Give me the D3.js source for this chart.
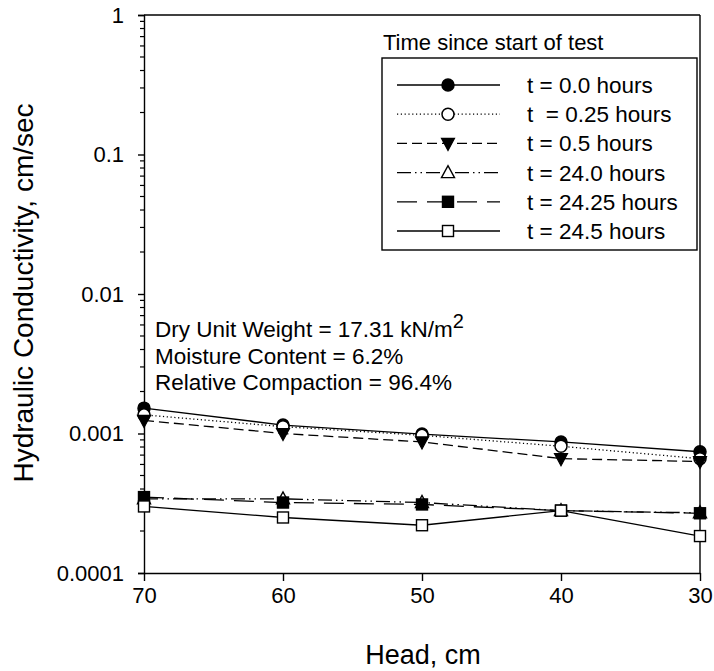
<!DOCTYPE html>
<html>
<head>
<meta charset="utf-8">
<script src="https://cdn.jsdelivr.net/npm/d3@7"></script>
<style>
  body { margin: 0; background: #fff; }
  svg { font-family: "Liberation Sans", Arial, sans-serif; }
</style>
</head>
<body>
<svg id="chart" width="714" height="671"></svg>
<script>
// Head values (cm) along the x axis
const heads = [70, 60, 50, 40, 30];

// Hydraulic conductivity (cm/sec) for each elapsed time
const k_t0_0   = [0.00152, 0.00115, 0.00099, 0.00087, 0.00074];
const k_t0_25  = [0.00136, 0.00112, 0.00097, 0.00081, 0.00066];
const k_t0_5   = [0.00124, 0.00100, 0.00087, 0.00066, 0.00063];
const k_t24_0  = [0.00034, 0.00034, 0.00032, 0.00028, 0.00027];
const k_t24_25 = [0.00035, 0.00032, 0.00031, 0.00028, 0.000268];
const k_t24_5  = [0.00030, 0.00025, 0.00022, 0.00028, 0.000184];

const seriesLabels = ["t = 0.0 hours", "t  = 0.25 hours", "t = 0.5 hours",
                      "t = 24.0 hours", "t = 24.25 hours", "t = 24.5 hours"];

const xTicks = [70, 60, 50, 40, 30];
const yTicks = [0.0001, 0.001, 0.01, 0.1, 1];
const yTickLabels = ["0.0001", "0.001", "0.01", "0.1", "1"];

const legendTitle = "Time since start of test";
const notes = ["Dry Unit Weight = 17.31 kN/m", "Moisture Content = 6.2%", "Relative Compaction = 96.4%"];

const series = [
  { name: seriesLabels[0], values: k_t0_0,   dash: null,          marker: "circle",   fill: "#000" },
  { name: seriesLabels[1], values: k_t0_25,  dash: "1.2,2.6",     marker: "circle",   fill: "#fff" },
  { name: seriesLabels[2], values: k_t0_5,   dash: "10,5",        marker: "triDown",  fill: "#000" },
  { name: seriesLabels[3], values: k_t24_0,  dash: "14,4,1.5,4,1.5,4", marker: "triUp", fill: "#fff" },
  { name: seriesLabels[4], values: k_t24_25, dash: "20,10",       marker: "square",   fill: "#000" },
  { name: seriesLabels[5], values: k_t24_5,  dash: null,          marker: "square",   fill: "#fff" }
];

const FONT = "Liberation Sans, Arial, sans-serif";
const svg = d3.select("#chart");
const plotLeft = 144, plotRight = 700, plotTop = 15, plotBottom = 573;

const x = d3.scaleLinear().domain([70, 30]).range([plotLeft, plotRight]);
const y = d3.scaleLog().domain([0.0001, 1]).range([plotBottom, plotTop]);

// Frame
const frame = svg.append("g").attr("stroke", "#000").attr("stroke-width", 1.4);
frame.append("line").attr("x1", plotLeft).attr("x2", plotRight).attr("y1", plotTop).attr("y2", plotTop);
frame.append("line").attr("x1", plotRight).attr("x2", plotRight).attr("y1", plotTop).attr("y2", plotBottom);

// Left (log) axis with minor ticks
const minorTicks = [];
for (let e = -4; e < 0; e++) for (let m = 2; m <= 9; m++) minorTicks.push(m * Math.pow(10, e));

const yAxis = d3.axisLeft(y).tickValues(yTicks).tickSize(6).tickPadding(14)
  .tickFormat((d, i) => yTickLabels[i]);
const gy = svg.append("g").attr("transform", `translate(${plotLeft},0)`).call(yAxis);
gy.select(".domain").attr("stroke-width", 1.4);
gy.selectAll(".tick line").attr("stroke-width", 1.4);
gy.selectAll(".tick text").attr("font-size", 22).attr("fill", "#000").attr("font-family", FONT);
gy.selectAll(".minor").data(minorTicks).enter().append("line")
  .attr("x1", -4).attr("x2", 0).attr("y1", d => y(d)).attr("y2", d => y(d))
  .attr("stroke", "#000").attr("stroke-width", 1.2);

// Bottom axis
const xAxis = d3.axisBottom(x).tickValues(xTicks).tickSize(8).tickPadding(6).tickSizeOuter(0);
const gx = svg.append("g").attr("transform", `translate(0,${plotBottom})`).call(xAxis);
gx.select(".domain").attr("stroke-width", 1.4);
gx.selectAll(".tick line").attr("stroke-width", 1.4);
gx.selectAll(".tick text").attr("font-size", 22).attr("fill", "#000").attr("font-family", FONT);

// Axis titles
svg.append("text").attr("x", 423).attr("y", 664).attr("text-anchor", "middle")
  .attr("font-size", 27).text("Head, cm");
svg.append("text").attr("transform", "translate(33,293) rotate(-90)").attr("text-anchor", "middle")
  .attr("font-size", 28).text("Hydraulic Conductivity, cm/sec");

// Marker drawing
function drawMarker(g, type, fill) {
  const s = "#000";
  if (type === "circle") {
    g.append("circle").attr("r", 6).attr("fill", fill).attr("stroke", s).attr("stroke-width", 1.5);
  } else if (type === "square") {
    g.append("rect").attr("x", -5.5).attr("y", -5.5).attr("width", 11).attr("height", 11)
      .attr("fill", fill).attr("stroke", s).attr("stroke-width", 1.4);
  } else if (type === "triDown") {
    g.append("path").attr("d", "M-6.5,-5L6.5,-5L0,7Z").attr("fill", fill).attr("stroke", s).attr("stroke-width", 1.2);
  } else if (type === "triUp") {
    g.append("path").attr("d", "M-6.5,5L6.5,5L0,-7Z").attr("fill", fill).attr("stroke", s).attr("stroke-width", 1.4);
  }
}

const line = d3.line().x(d => x(d[0])).y(d => y(d[1]));

// Series lines, then markers on top
const plot = svg.append("g");
series.forEach(s => {
  const pts = heads.map((h, i) => [h, s.values[i]]);
  plot.append("path").datum(pts).attr("d", line).attr("fill", "none")
    .attr("stroke", "#000").attr("stroke-width", 1.3)
    .attr("stroke-dasharray", s.dash);
});
series.forEach(s => {
  heads.forEach((h, i) => {
    const g = plot.append("g").attr("transform", `translate(${x(h)},${y(s.values[i])})`);
    drawMarker(g, s.marker, s.fill);
  });
});

// Legend
svg.append("text").attr("x", 383).attr("y", 50).attr("font-size", 22).text(legendTitle);
svg.append("rect").attr("x", 382).attr("y", 58).attr("width", 315).attr("height", 192)
  .attr("fill", "#fff").attr("stroke", "#000").attr("stroke-width", 1.4);
series.forEach((s, i) => {
  const cy = 85 + i * 29.2;
  const lg = svg.append("g");
  lg.append("line").attr("x1", 397).attr("x2", 500).attr("y1", cy).attr("y2", cy)
    .attr("stroke", "#000").attr("stroke-width", 1.3).attr("stroke-dasharray", s.dash);
  const m = lg.append("g").attr("transform", `translate(448,${cy})`);
  drawMarker(m, s.marker, s.fill);
  lg.append("text").attr("x", 527).attr("y", cy + 8).attr("font-size", 22.5)
    .style("white-space", "pre").text(s.name);
});

// Sample properties note
const note = svg.append("g").attr("font-size", 22.5);
notes.forEach((t, i) => {
  const tx = note.append("text").attr("x", 155).attr("y", 337 + i * 26.7).text(t);
  if (i === 0) tx.append("tspan").attr("dy", -9).attr("font-size", 20).text("2");
});
</script>
</body>
</html>
